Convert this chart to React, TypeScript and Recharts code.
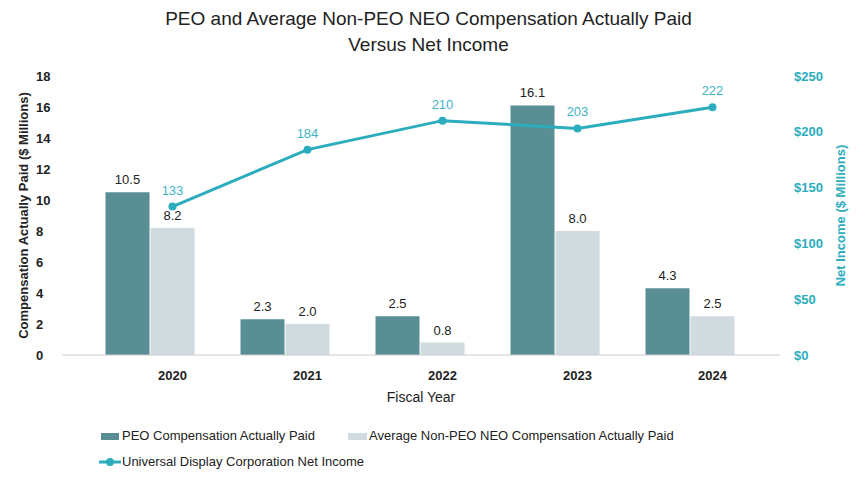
import { ComposedChart, Bar, Line, XAxis, YAxis, LabelList, Label } from 'recharts';

const years = ['2020', '2021', '2022', '2023', '2024'];
const peoPaid = [10.5, 2.3, 2.5, 16.1, 4.3];
const neoPaid = [8.2, 2.0, 0.8, 8.0, 2.5];
const netIncome = [133, 184, 210, 203, 222];
const leftTicks = [0, 2, 4, 6, 8, 10, 12, 14, 16, 18];
const rightTicks = [0, 50, 100, 150, 200, 250];

const PEO = '#588e94';
const NEO = '#cfdbde';
const LINE = '#2badbe';
const FONT = '"Liberation Sans", Arial, sans-serif';

const data = years.map((y, i) => ({
    year: y,
    peo: peoPaid[i],
    neo: neoPaid[i],
    income: netIncome[i],
}));

const LeftTick = (props: any) => {
    const { y, payload } = props;
    return (
        <text x={36} y={y} dy={4.5} textAnchor="start" fontSize={13} fontWeight="bold" fill="#222" fontFamily={FONT}>
            {payload.value}
        </text>
    );
};

export default function App() {
    return (
        <div style={{ position: 'absolute', left: 0, top: 0, width: 857, height: 478, background: '#fff', fontFamily: FONT }}>
            <div style={{ position: 'absolute', top: 6, left: 0, width: 857, textAlign: 'center', fontSize: 19, lineHeight: '26px', color: '#222' }}>
                PEO and Average Non-PEO NEO Compensation Actually Paid
                <br />
                Versus Net Income
            </div>
            <ComposedChart
                width={857}
                height={478}
                data={data}
                margin={{ top: 76, right: 0, bottom: 73, left: 0 }}
                barCategoryGap="16.67%"
                barGap={1}
            >
                {/* the original's bars sit half a bar left of the year labels */}
                <XAxis xAxisId="bars" dataKey="year" hide padding={{ left: 21, right: 22 }} />
                <XAxis
                    dataKey="year"
                    padding={{ left: 43, right: 0 }}
                    tickLine={false}
                    axisLine={{ stroke: '#cccccc' }}
                    tickMargin={10}
                    height={50}
                    tick={{ fontSize: 13, fontWeight: 'bold', fill: '#222', fontFamily: FONT }}
                >
                    <Label value="Fiscal Year" position="insideBottom" offset={3} style={{ fontSize: 14, fill: '#222', fontFamily: FONT }} />
                </XAxis>
                <YAxis
                    yAxisId="left"
                    orientation="left"
                    width={62}
                    domain={[0, 18]}
                    ticks={leftTicks}
                    interval={0}
                    axisLine={false}
                    tickLine={false}
                    tick={<LeftTick />}
                >
                    <Label
                        value="Compensation Actually Paid ($ Millions)"
                        angle={-90}
                        position="insideLeft"
                        offset={0}
                        dx={23}
                        style={{ textAnchor: 'middle', fontSize: 13, fontWeight: 'bold', fill: '#222', fontFamily: FONT }}
                    />
                </YAxis>
                <YAxis
                    yAxisId="right"
                    orientation="right"
                    width={77}
                    domain={[0, 250]}
                    ticks={rightTicks}
                    interval={0}
                    axisLine={false}
                    tickLine={false}
                    tickMargin={8}
                    tickFormatter={(v: number) => `$${v}`}
                    tick={{ fontSize: 13, fontWeight: 'bold', fill: LINE, fontFamily: FONT }}
                >
                    <Label
                        value="Net Income ($ Millions)"
                        angle={-90}
                        position="insideRight"
                        offset={0}
                        dx={-17}
                        style={{ textAnchor: 'middle', fontSize: 13, fontWeight: 'bold', fill: LINE, fontFamily: FONT }}
                    />
                </YAxis>
                <Bar xAxisId="bars" yAxisId="left" dataKey="peo" fill={PEO} isAnimationActive={false}>
                    <LabelList dataKey="peo" position="top" offset={8} formatter={(v: number) => v.toFixed(1)} style={{ fontSize: 13, fill: '#222', fontFamily: FONT }} />
                </Bar>
                <Bar xAxisId="bars" yAxisId="left" dataKey="neo" fill={NEO} isAnimationActive={false}>
                    <LabelList dataKey="neo" position="top" offset={8} formatter={(v: number) => v.toFixed(1)} style={{ fontSize: 13, fill: '#222', fontFamily: FONT }} />
                </Bar>
                <Line
                    yAxisId="right"
                    dataKey="income"
                    stroke={LINE}
                    strokeWidth={3}
                    dot={{ r: 4, fill: LINE, stroke: LINE, strokeWidth: 0 }}
                    isAnimationActive={false}
                >
                    <LabelList dataKey="income" position="top" offset={12} style={{ fontSize: 13, fill: '#3fb3c4', fontFamily: FONT }} />
                </Line>
            </ComposedChart>
            <div style={{ position: 'absolute', top: 0, left: 0, fontSize: 13, color: '#222' }}>
                <div style={{ position: 'absolute', left: 101, top: 433, width: 18, height: 7, background: PEO }} />
                <div style={{ position: 'absolute', left: 122, top: 428, whiteSpace: 'nowrap' }}>PEO Compensation Actually Paid</div>
                <div style={{ position: 'absolute', left: 348, top: 433, width: 19, height: 7, background: NEO }} />
                <div style={{ position: 'absolute', left: 369, top: 428, whiteSpace: 'nowrap' }}>Average Non-PEO NEO Compensation Actually Paid</div>
                <svg style={{ position: 'absolute', left: 98, top: 455 }} width={24} height={14}>
                    <line x1={1} y1={7} x2={23} y2={7} stroke={LINE} strokeWidth={3} />
                    <circle cx={12} cy={7} r={4} fill={LINE} />
                </svg>
                <div style={{ position: 'absolute', left: 122, top: 454, whiteSpace: 'nowrap' }}>Universal Display Corporation Net Income</div>
            </div>
        </div>
    );
}
